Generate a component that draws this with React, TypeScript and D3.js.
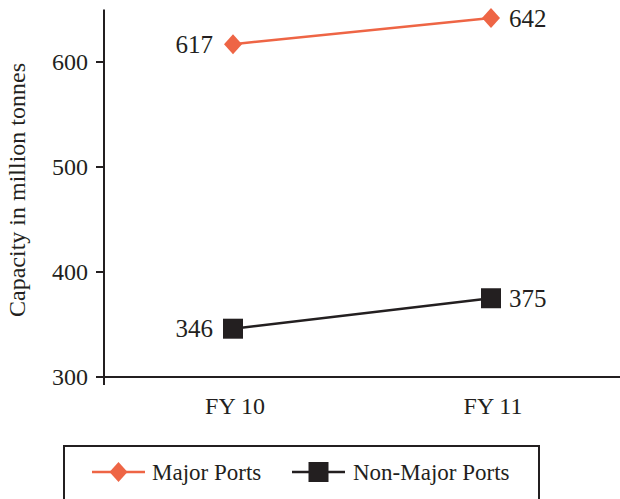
import React from "react";
import * as d3 from "d3";

const categories = ["FY 10", "FY 11"];
const majorPorts = [617, 642];
const nonMajorPorts = [346, 375];
const yTicks = [300, 400, 500, 600];
const seriesNames = ["Major Ports", "Non-Major Ports"];

const W = 620;
const H = 499;
const FONT = "Liberation Serif, Times New Roman, Times, serif";
const ORANGE = "#EE6545";
const DARK = "#231F20";

export default function App() {
  const x = d3.scaleBand<string>().domain(categories).range([104, 620]);
  const y = d3.scaleLinear().domain([300, 650]).range([377, 9.5]);
  const cx = (c: string) => (x(c) as number) + x.bandwidth() / 2;
  const line = d3
    .line<number>()
    .x((_, i) => cx(categories[i]))
    .y((d) => y(d));
  const diamond = "M0,-10L9,0L0,10L-9,0Z";
  const square = (s: number) => `M${-s / 2},${-s / 2}h${s}v${s}h${-s}Z`;

  return (
    <svg
      width={W}
      height={H}
      style={{ position: "absolute", left: 0, top: 0, background: "#fff", fontFamily: FONT }}
    >
      {/* axes */}
      <line x1={104} x2={104} y1={y(650)} y2={y(300) + 8} stroke={DARK} strokeWidth={2} />
      <line x1={104} x2={620} y1={y(300)} y2={y(300)} stroke={DARK} strokeWidth={2} />
      {yTicks.map((t) => (
        <g key={t}>
          <line x1={96} x2={104} y1={y(t)} y2={y(t)} stroke={DARK} strokeWidth={2} />
          <text x={88} y={y(t)} dy="0.35em" textAnchor="end" fontSize={24} fill={DARK}>
            {t}
          </text>
        </g>
      ))}
      {categories.map((c) => (
        <text key={c} x={cx(c) + 2} y={414} textAnchor="middle" fontSize={24} fill={DARK}>
          {c}
        </text>
      ))}
      <text
        transform={`translate(25,${190}) rotate(-90)`}
        textAnchor="middle"
        fontSize={24}
        fill={DARK}
      >
        Capacity in million tonnes
      </text>

      {/* series */}
      <path d={line(majorPorts) || ""} fill="none" stroke={ORANGE} strokeWidth={2.5} />
      <path d={line(nonMajorPorts) || ""} fill="none" stroke={DARK} strokeWidth={2.5} />
      {majorPorts.map((v, i) => (
        <g key={"m" + i}>
          <path d={diamond} transform={`translate(${cx(categories[i])},${y(v)})`} fill={ORANGE} />
          <text
            x={i === 0 ? cx(categories[i]) - 20 : cx(categories[i]) + 18}
            y={y(v)}
            dy="0.35em"
            textAnchor={i === 0 ? "end" : "start"}
            fontSize={25}
            fill={DARK}
          >
            {v}
          </text>
        </g>
      ))}
      {nonMajorPorts.map((v, i) => (
        <g key={"n" + i}>
          <path d={square(20)} transform={`translate(${cx(categories[i])},${y(v)})`} fill={DARK} />
          <text
            x={i === 0 ? cx(categories[i]) - 20 : cx(categories[i]) + 18}
            y={y(v)}
            dy="0.35em"
            textAnchor={i === 0 ? "end" : "start"}
            fontSize={25}
            fill={DARK}
          >
            {v}
          </text>
        </g>
      ))}

      {/* legend */}
      <rect x={64} y={446} width={475} height={70} fill="none" stroke={DARK} strokeWidth={2} />
      <line x1={92} x2={145} y1={472} y2={472} stroke={ORANGE} strokeWidth={2.5} />
      <path d={diamond} transform="translate(118.5,472)" fill={ORANGE} />
      <text x={152} y={472} dy="0.35em" fontSize={23} fill={DARK}>
        {seriesNames[0]}
      </text>
      <line x1={292} x2={345} y1={472} y2={472} stroke={DARK} strokeWidth={2.5} />
      <path d={square(20)} transform="translate(318.5,472)" fill={DARK} />
      <text x={353} y={472} dy="0.35em" fontSize={23} fill={DARK}>
        {seriesNames[1]}
      </text>
    </svg>
  );
}
